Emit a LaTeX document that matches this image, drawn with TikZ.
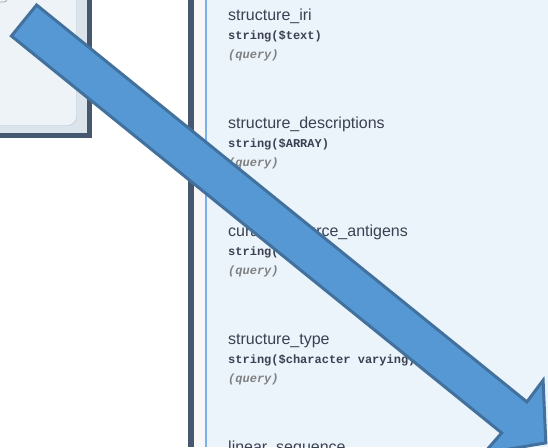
\documentclass[tikz,border=0pt]{standalone}
\usepackage{fontspec}
\setmainfont{Liberation Sans}
\setmonofont{Liberation Mono}
\usepackage{xcolor}
\usepackage{tikz}

\definecolor{frame}{HTML}{475770}
\definecolor{panel}{HTML}{DBE3EB}
\definecolor{card}{HTML}{EEF3F7}
\definecolor{cardline}{HTML}{B6C1D3}
\definecolor{listbg}{HTML}{EBF3FB}
\definecolor{listline}{HTML}{7AB0F0}
\definecolor{ink}{HTML}{3B4151}
\definecolor{arrowfill}{HTML}{5698D4}
\definecolor{arrowline}{HTML}{41719C}

\begin{document}
\begin{tikzpicture}[x=1pt, y=-1pt,
    pname/.style={anchor=base west, inner sep=0pt, text=ink, font=\fontsize{16}{18}\selectfont},
    ptype/.style={anchor=base west, inner sep=0pt, text=ink, font=\ttfamily\bfseries\fontsize{12}{14}\selectfont},
    pin/.style={anchor=base west, inner sep=0pt, text=gray, font=\ttfamily\bfseries\itshape\fontsize{12}{14}\selectfont}]
    \useasboundingbox (0,0) rectangle (548,447);
    \clip (0,0) rectangle (548,447);

    % left panel
    \fill[frame] (-10,-10) rectangle (92,138);
    \fill[panel] (-10,-10) rectangle (87,133);
    \draw[cardline, fill=card, rounded corners=9pt] (-10,-10) rectangle (76.5,125.5);
    \draw[gray!70, line width=0.8pt, rounded corners=3pt] (-10,2) -- (7,2) -- (7,-8);

    % right panel
    \fill[white] (92,0) rectangle (188,447);
    \fill[frame] (188,0) rectangle (194,447);
    \fill[black!3] (194,0) rectangle (206,447);
    \fill[listbg] (206,0) rectangle (548,447);
    \draw[listline, line width=1.2pt] (206,0) -- (206,447);

    % parameters
    \node[pname] (n1) at (228,20) {structure\_iri};
    \node[ptype] (t1) at (228,39) {string(\$text)};
    \node[pin]   (q1) at (228,58) {(query)};

    \node[pname] (n2) at (228,128) {structure\_descriptions};
    \node[ptype] (t2) at (228,147) {string(\$ARRAY)};
    \node[pin]   (q2) at (228,166) {(query)};

    \node[pname] (n3) at (228,236) {curated\_source\_antigens};
    \node[ptype] (t3) at (228,255) {string(\$ARRAY)};
    \node[pin]   (q3) at (228,274) {(query)};

    \node[pname] (n4) at (228,344) {structure\_type};
    \node[ptype] (t4) at (228,363) {string(\$character varying)};
    \node[pin]   (q4) at (228,382) {(query)};

    \node[pname] (n5) at (228,452) {linear\_sequence};

    % big arrow
    \draw[arrowline, fill=arrowfill, line width=3pt, line join=miter]
        (36.6,5.0) -- (526.9,401.9) -- (543.1,380.3) -- (545.8,442.9)
        -- (483.9,453.3) -- (501.7,432.9) -- (11.4,36.0) -- cycle;
\end{tikzpicture}
\end{document}
